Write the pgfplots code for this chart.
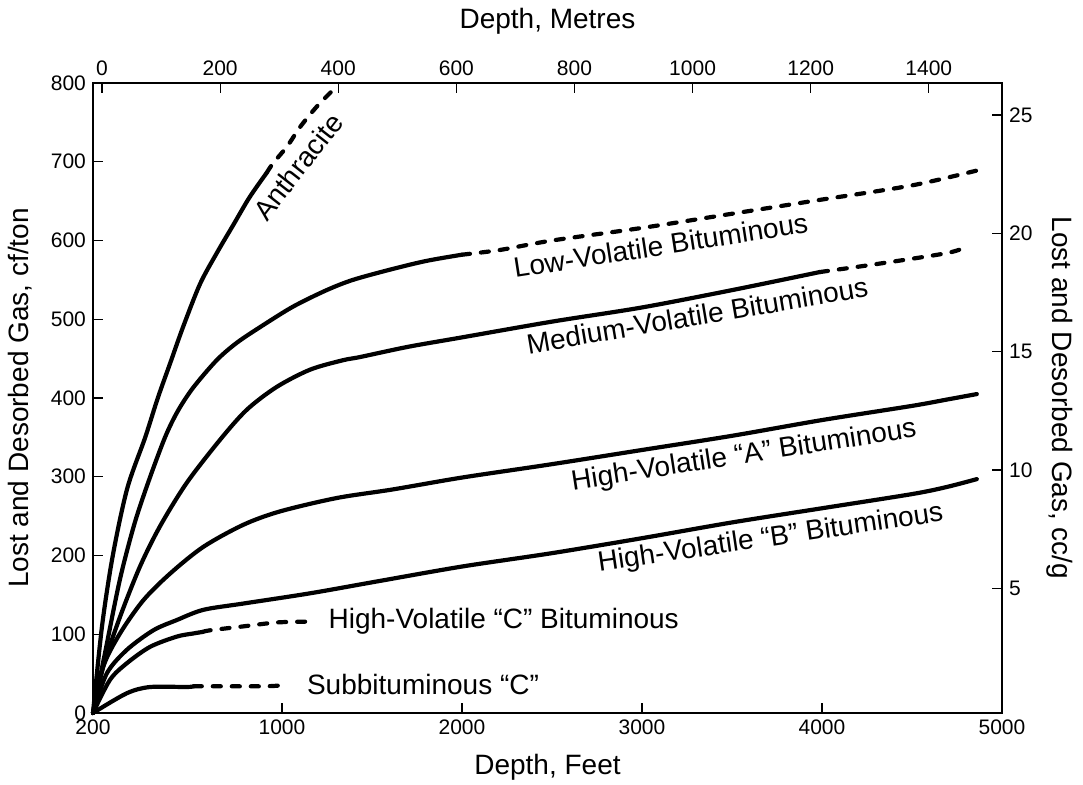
\documentclass[border=0pt]{standalone}
\usepackage{fontspec}
\setmainfont{Liberation Sans}
\usepackage{pgfplots}
\pgfplotsset{compat=1.18}
\begin{document}
\begin{tikzpicture}[font=\fontsize{10.5}{12}\selectfont]
\pgfplotsset{
  base/.style={scale only axis, width=454.5pt, height=315pt,
    axis line style={line width=0.6pt, black}, tick style={line width=0.6pt, black},
    major tick length=5pt, tick align=inside,
    /pgf/number format/assume math mode=true, /pgf/number format/1000 sep={},
    label style={font=\fontsize{14}{16}\selectfont},
    ticklabel style={font=\fontsize{10.5}{12}\selectfont}},
  sc/.style={black, line width=2.1pt, line cap=round, line join=round, smooth, tension=0.5},
  dc/.style={black, line width=2.1pt, line cap=round, line join=round, dash pattern=on 4pt off 5.5pt, smooth, tension=0.5},
}
\useasboundingbox (-46.5pt,-35.5pt) rectangle (495pt,356.5pt);
\begin{axis}[base, xmin=-50, xmax=5000, ymin=0, ymax=800,
  xtick={-50,1000,2000,3000,4000,5000}, xticklabels={200,1000,2000,3000,4000,5000},
  ytick={0,100,...,800}, xtick pos=bottom, ytick pos=left,
  xlabel={Depth, Feet}, ylabel={Lost and Desorbed Gas, cf/ton},
  xlabel style={at={(axis description cs:0.5,-0.0857)}, anchor=center},
  ylabel style={at={(axis description cs:-0.0803,0.5)}, anchor=center},
  clip=false]
% Anthracite
\addplot[sc] coordinates {(-50,0)(0,110)(60,200)(140,285)(240,350)(310,400)(380,445)(450,490)(545,545)(640,585)(730,620)(820,655)(915,686)};
\addplot[dc] coordinates {(915,686)(950,698)(1030,720)(1100,744)(1193,770)(1283,791)};
% Low-volatile
\addplot[sc] coordinates {(-50,0)(20,80)(100,170)(180,240)(260,295)(350,350)(420,383)(506,413)(637,448)(748,470)(878,490)(1061,516)(1248,537)(1394,550)(1600,563)(1800,574)(2000,582)};
\addplot[dc] coordinates {(2000,582)(2211,588)(2500,600)(3000,616)(3500,634)(3971,651)(4500,670)(4880,690)};
% Medium-volatile
\addplot[sc] coordinates {(-50,0)(7,59)(100,122)(211,186)(322,237)(470,292)(656,347)(804,385)(970,414)(1156,436)(1339,448)(1433,452)(1700,465)(2000,477)(2500,497)(3000,515)(3500,537)(3989,560)};
\addplot[dc] coordinates {(3989,560)(4300,570)(4693,584)(4800,592)};
% High-volatile A
\addplot[sc] coordinates {(-50,0)(7,59)(100,101)(229,143)(378,177)(563,211)(785,239)(989,256)(1304,273)(1618,284)(2000,299)(2500,316)(3000,334)(3500,352)(4000,372)(4500,390)(4693,398)(4860,405)};
% High-volatile B
\addplot[sc] coordinates {(-50,0)(26,50)(137,80)(285,105)(415,118)(563,131)(785,139)(1156,152)(1526,167)(2000,186)(2500,203)(3000,222)(3500,242)(4000,260)(4500,278)(4693,287)(4860,297)};
% High-volatile C
\addplot[sc] coordinates {(-50,0)(44,42)(137,63)(267,84)(415,97)(507,101)(560,103)};
\addplot[dc] coordinates {(560,103)(600,105)(785,110)(971,115)(1137,116)};
% Subbituminous C
\addplot[sc] coordinates {(-50,0)(137,25)(267,33)(470,33)(510,34)};
\addplot[dc] coordinates {(510,34)(600,34)(915,34)(1035,36)};
% labels
\begin{scope}[font=\fontsize{14}{16}\selectfont]
\node[rotate=52] at (axis cs:1089,694) {Anthracite};
\node[rotate=8.8] at (axis cs:3104,594) {Low-Volatile Bituminous};
\node[rotate=9.6] at (axis cs:3307,505) {Medium-Volatile Bituminous};
\node[rotate=8.8] at (axis cs:3567,326) {High-Volatile “A” Bituminous};
\node[rotate=8.4] at (axis cs:3715,221) {High-Volatile “B” Bituminous};
\node[anchor=west] at (axis cs:1220,116) {High-Volatile “C” Bituminous};
\node[anchor=west] at (axis cs:1100,36) {Subbituminous “C”};
\end{scope}
\end{axis}
\begin{axis}[base, xmin=-15.24, xmax=1523.9, ymin=0, ymax=800,
  axis x line*=top, axis y line=none, xtick={0,200,...,1400}, xlabel={Depth, Metres},
  xlabel style={at={(axis description cs:0.5,1.098)}, anchor=center}]
\end{axis}
\begin{axis}[base, xmin=0, xmax=1, ymin=-0.27, ymax=26.35,
  axis y line*=right, axis x line=none, ytick={5,10,...,25},
  ylabel={Lost and Desorbed Gas, cc/g},
  ylabel style={at={(axis description cs:1.0638,0.5)}, anchor=center, rotate=180}]
\end{axis}
\end{tikzpicture}
\end{document}
